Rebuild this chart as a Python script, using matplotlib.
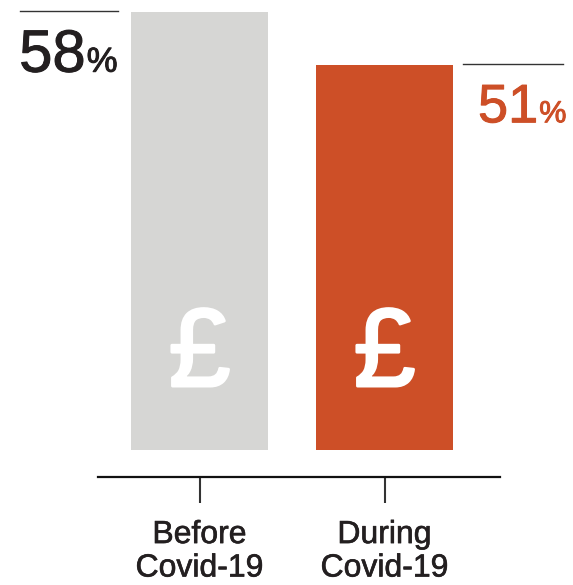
import matplotlib
matplotlib.use('Agg')
import matplotlib.pyplot as plt
import matplotlib.patheffects as pe

periods = ['Before\nCovid-19', 'During\nCovid-19']
shares = [58, 51]
colours = ['#d6d6d4', '#cd4f27']
label_colours = ['#231f20', '#cd4f27']

plt.rcParams['font.family'] = ['Liberation Sans', 'DejaVu Sans']

fig = plt.figure(figsize=(5.73, 5.85), dpi=100)
ax = fig.add_axes([98/573., 108/585., 402/573., 477/585.])

x = range(len(shares))
ax.bar(x, shares, width=0.74, color=colours, zorder=2)
ax.set_xlim(-0.549, 1.624)
ax.set_ylim(-3.58, 59.6)

for s in ['top', 'right', 'left']:
	ax.spines[s].set_visible(False)
ax.spines['bottom'].set_linewidth(1.6)
ax.spines['bottom'].set_color('#111111')
ax.set_yticks([])
ax.set_xticks(list(x))
labs = ax.set_xticklabels(periods, fontsize=23, color='#231f20', linespacing=1.15)
for l in labs:
	l.set_path_effects([pe.withStroke(linewidth=0.45, foreground='#231f20')])
ax.tick_params(axis='x', length=19, width=1.5, color='#333333', pad=12)

# pound signs inside the bars
for i, v in enumerate(shares):
	ax.text(i, 12.3, u'\u00a3', ha='center', va='center', fontsize=80,
		color='white', path_effects=[pe.withStroke(linewidth=2, foreground='white')])

# value callouts with a rule above
rules = [(-0.970, -0.441), (1.424, 1.965)]
number_pos = [(-0.975, 50.1), (1.505, 43.4)]
sizes = [(43, 25), (39, 22)]
fig.canvas.draw()
renderer = fig.canvas.get_renderer()
for i, v in enumerate(shares):
	ax.plot(rules[i], [v + 0.1, v + 0.1], color='#333333', lw=1, clip_on=False)
	stroke = [pe.withStroke(linewidth=0.7, foreground=label_colours[i])]
	t = ax.text(number_pos[i][0], number_pos[i][1], str(v), fontsize=sizes[i][0],
		color=label_colours[i], ha='left', va='baseline', path_effects=stroke)
	bb = t.get_window_extent(renderer)
	xr = ax.transData.inverted().transform((bb.x1 + 1, 0))[0]
	ax.text(xr, number_pos[i][1], '%', fontsize=sizes[i][1],
		color=label_colours[i], ha='left', va='baseline', path_effects=stroke)

plt.savefig('out.png')
